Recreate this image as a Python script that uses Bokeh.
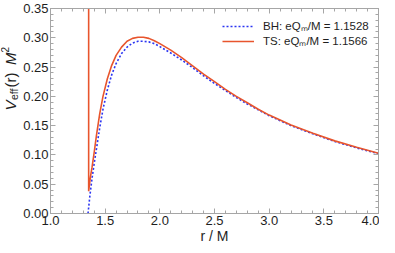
import math
from bokeh.plotting import figure
from bokeh.layouts import row
from bokeh.models import (Range1d, LinearAxis, Label, Legend, LegendItem,
                          FixedTicker, PrintfTickFormatter, CustomLabelingPolicy)
from bokeh.embed import file_html
from bokeh.resources import INLINE

# ---- data ----
bh_r = [1.343, 1.35, 1.36, 1.38, 1.40, 1.42, 1.45, 1.48, 1.52, 1.56, 1.60,
        1.65, 1.70, 1.75, 1.80, 1.85, 1.90, 1.95, 2.00, 2.10, 2.20, 2.30,
        2.40, 2.50, 2.60, 2.70, 2.80, 2.90, 3.00, 3.20, 3.40, 3.60, 3.80, 4.00]
bh_v = [0.000, 0.012, 0.030, 0.060, 0.086, 0.110, 0.146, 0.178, 0.211, 0.237,
        0.256, 0.273, 0.284, 0.291, 0.294, 0.294, 0.293, 0.290, 0.285, 0.274,
        0.262, 0.249, 0.235, 0.222, 0.210, 0.198, 0.187, 0.177, 0.167, 0.150,
        0.136, 0.123, 0.112, 0.102]

ts_r = [1.349, 1.349, 1.36, 1.37, 1.38, 1.40, 1.42, 1.45, 1.48, 1.52, 1.56,
        1.60, 1.65, 1.70, 1.75, 1.80, 1.85, 1.90, 1.95, 2.00, 2.10, 2.20,
        2.30, 2.40, 2.50, 2.60, 2.70, 2.80, 2.90, 3.00, 3.20, 3.40, 3.60,
        3.80, 4.00]
ts_v = [0.400, 0.038, 0.055, 0.068, 0.079, 0.105, 0.133, 0.170, 0.200, 0.230,
        0.253, 0.270, 0.284, 0.294, 0.299, 0.301, 0.301, 0.299, 0.295, 0.290,
        0.279, 0.266, 0.252, 0.238, 0.225, 0.212, 0.200, 0.189, 0.178, 0.168,
        0.151, 0.137, 0.124, 0.113, 0.103]

bh_label = "BH: eQ\u2098/M = 1.1528"
ts_label = "TS: eQ\u2098/M = 1.1566"
x_label = "r / M"
x_ticks = [1.0, 1.5, 2.0, 2.5, 3.0, 3.5, 4.0]
y_ticks = [0.0, 0.05, 0.10, 0.15, 0.20, 0.25, 0.30, 0.35]
x_minor = [round(1.0 + 0.1 * i, 2) for i in range(31)]
y_minor = [round(0.01 * i, 2) for i in range(36)]

FONT = "Liberation Sans"
FRAME = "#a6a6a6"
TXT = "#1e1e1e"
RED = "#e8552d"
BLUE = "#2b35f2"

H = 246
LW = 20           # width of the strip that holds the y-axis title
W = 379 - LW

p = figure(width=W, height=H, output_backend="svg", toolbar_location=None,
           x_range=Range1d(1.0, 4.0), y_range=Range1d(0.0, 0.35),
           min_border_top=8, min_border_bottom=28,
           min_border_left=21, min_border_right=1,
           x_axis_location=None, y_axis_location=None)
p.grid.visible = False
p.outline_line_color = FRAME
p.outline_line_width = 1
p.background_fill_color = "white"
p.border_fill_color = "white"

hide_all = CustomLabelingPolicy(
    code="for (let i = 0; i < indices.size; i++) { indices.unset(i) }\nreturn indices")


def style_axis(ax, ticks, minor, labels=True):
    ax.ticker = FixedTicker(ticks=ticks, minor_ticks=minor)
    ax.axis_line_color = FRAME
    ax.major_tick_line_color = FRAME
    ax.minor_tick_line_color = FRAME
    ax.major_tick_in = 5
    ax.major_tick_out = 0
    ax.minor_tick_in = 3
    ax.minor_tick_out = 0
    ax.major_label_text_font = FONT
    ax.major_label_text_color = TXT
    if labels:
        ax.major_label_text_font_size = "13px"
        ax.major_label_standoff = 2
    else:
        ax.major_label_text_font_size = "0px"
        ax.major_label_policy = hide_all
        ax.major_label_standoff = 0


xb = LinearAxis()
style_axis(xb, x_ticks, x_minor)
xb.formatter = PrintfTickFormatter(format="%.1f")
xb.axis_label = x_label
xb.axis_label_text_font = FONT
xb.axis_label_text_font_style = "normal"
xb.axis_label_text_font_size = "14px"
xb.axis_label_text_color = TXT
xb.axis_label_standoff = 0
p.add_layout(xb, "below")

yl = LinearAxis()
style_axis(yl, y_ticks, y_minor)
yl.formatter = PrintfTickFormatter(format="%.2f")
p.add_layout(yl, "left")

xt = LinearAxis()
style_axis(xt, x_ticks, x_minor, labels=False)
p.add_layout(xt, "above")

yr = LinearAxis()
style_axis(yr, y_ticks, y_minor, labels=False)
p.add_layout(yr, "right")

r_bh = p.line(bh_r, bh_v, line_color=BLUE, line_width=1.6, line_dash="2 2")
r_ts = p.line(ts_r, ts_v, line_color=RED, line_width=1.6)

legend = Legend(items=[LegendItem(label=bh_label, renderers=[r_bh]),
                       LegendItem(label=ts_label, renderers=[r_ts])],
                location=(172, 165))
legend.border_line_color = None
legend.background_fill_alpha = 0
legend.label_text_font = FONT
legend.label_text_font_size = "11.5px"
legend.label_text_color = TXT
legend.glyph_width = 32
legend.glyph_height = 12
legend.label_height = 12
legend.label_standoff = 9
legend.spacing = 0
legend.margin = 0
legend.padding = 3
p.add_layout(legend)

# ---- strip with the y-axis title (rotated pieces for sub/superscripts)
t = figure(width=LW, height=H, output_backend="svg", toolbar_location=None,
           x_range=Range1d(0, 1), y_range=Range1d(0, 1),
           min_border=0, x_axis_location=None, y_axis_location=None)
t.grid.visible = False
t.outline_line_color = None
t.border_fill_color = "white"
t.background_fill_color = "white"

base_x = 10         # frame x of the main baseline
y = 103             # frame y (from bottom) where the text starts
pieces = [
    ("V", 15, "italic", 0, 10.5),
    ("eff", 10.5, "normal", 3, 12.5),
    (" (r) ", 15, "normal", 0, 22.5),
    ("M", 15, "italic", 0, 12.5),
    ("2", 10, "normal", -6, 6),
]
for txt, fs, style, shift, adv in pieces:
    t.add_layout(Label(x=base_x + shift, y=y, x_units="screen", y_units="screen",
                       text=txt, angle=math.pi / 2, text_font=FONT,
                       text_font_size=f"{fs}px", text_font_style=style,
                       text_color=TXT, text_align="left",
                       text_baseline="alphabetic"))
    y += adv

layout = row(t, p)
open("out.html", "w").write(file_html(layout, INLINE))
